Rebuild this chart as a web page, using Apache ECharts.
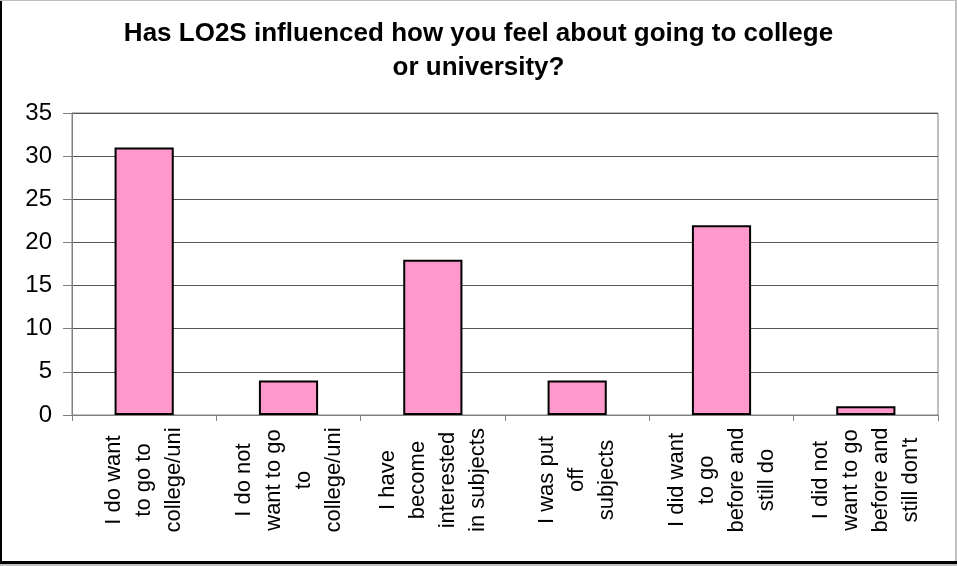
<!DOCTYPE html>
<html>
<head>
<meta charset="utf-8">
<script src="https://cdn.jsdelivr.net/npm/echarts@6/dist/echarts.min.js"></script>
<style>
html,body{margin:0;padding:0;background:#fff;}
#chart{width:957px;height:566px;}
</style>
</head>
<body>
<div id="chart"></div>
<script>
var titleText = 'Has LO2S influenced how you feel about going to college\nor university?';
var categories = [
  'I do want\nto go to\ncollege/uni',
  'I do not\nwant to go\nto\ncollege/uni',
  'I have\nbecome\ninterested\nin subjects',
  'I was put\noff\nsubjects',
  'I did want\nto go\nbefore and\nstill do',
  'I did not\nwant to go\nbefore and\nstill don\'t'
];
var values = [31, 4, 18, 4, 22, 1];
var yTicks = { min: 0, max: 35, interval: 5 };

var chart = echarts.init(document.getElementById('chart'), null, { renderer: 'canvas' });
var font = '"Liberation Sans", Arial, sans-serif';
chart.setOption({
  animation: false,
  backgroundColor: '#ffffff',
  title: {
    text: titleText,
    left: 'center',
    top: 17,
    padding: 0,
    textStyle: { fontFamily: font, fontWeight: 'bold', fontSize: 26, lineHeight: 34, color: '#000', align: 'center' }
  },
  grid: {
    left: 72, right: 19, top: 113, bottom: 151,
    show: true, borderColor: '#808080', borderWidth: 1, backgroundColor: 'transparent'
  },
  xAxis: {
    type: 'category',
    data: categories,
    axisLine: { lineStyle: { color: '#808080', width: 1 } },
    axisTick: { show: true, alignWithLabel: false, length: 6, lineStyle: { color: '#808080' } },
    axisLabel: {
      interval: 0, rotate: 90, margin: 65,
      align: 'center', verticalAlign: 'middle',
      fontFamily: font, fontSize: 22, lineHeight: 30, color: '#000'
    }
  },
  yAxis: {
    type: 'value',
    min: yTicks.min, max: yTicks.max, interval: yTicks.interval,
    axisLine: { show: true, lineStyle: { color: '#808080', width: 1 } },
    axisTick: { show: true, length: 9, inside: false, lineStyle: { color: '#808080' } },
    axisLabel: { margin: 20, fontFamily: font, fontSize: 24, color: '#000' },
    splitLine: { show: true, lineStyle: { color: '#555555', width: 1 } }
  },
  series: [{
    type: 'bar',
    data: values,
    barWidth: '41%',
    itemStyle: { color: '#FF99CC', borderColor: '#000000', borderWidth: 2 }
  }],
  graphic: [
    { type: 'rect', shape: { x: 0, y: 0, width: 957, height: 1 }, style: { fill: '#C0C0C0' }, silent: true },
    { type: 'rect', shape: { x: 955, y: 0, width: 2, height: 566 }, style: { fill: '#C0C0C0' }, silent: true },
    { type: 'rect', shape: { x: 0, y: 1, width: 2, height: 563 }, style: { fill: '#000000' }, silent: true },
    { type: 'rect', shape: { x: 0, y: 561, width: 957, height: 3 }, style: { fill: '#000000' }, silent: true },
    { type: 'rect', shape: { x: 0, y: 564, width: 957, height: 2 }, style: { fill: '#C0C0C0' }, silent: true }
  ]
});
</script>
</body>
</html>
